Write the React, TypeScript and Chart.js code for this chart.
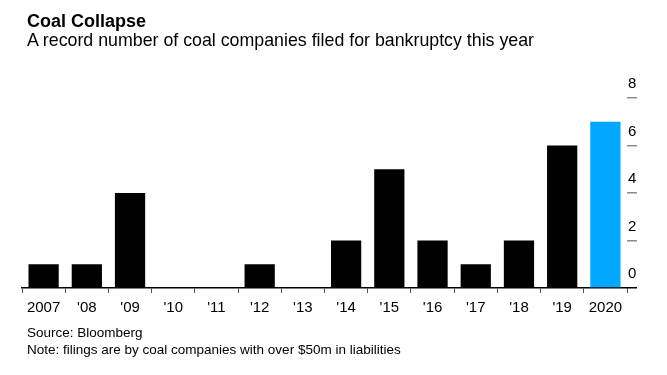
import React, { useEffect, useRef } from "react";
import { Chart, registerables } from "chart.js";

Chart.register(...registerables);

const years = ["2007", "'08", "'09", "'10", "'11", "'12", "'13", "'14", "'15", "'16", "'17", "'18", "'19", "2020"];
const filings = [1, 1, 4, 0, 0, 1, 0, 2, 5, 2, 1, 2, 6, 7];
const yMin = 0;
const yMax = 8;
const yStep = 2;

const titleText = "Coal Collapse";
const subtitleText = "A record number of coal companies filed for bankruptcy this year";
const sourceText = "Source: Bloomberg";
const noteText = "Note: filings are by coal companies with over $50m in liabilities";

const FONT = '"Liberation Sans", Arial, Helvetica, sans-serif';
const BLUE = "#00a9ff";

export default function App() {
  const ref = useRef<HTMLCanvasElement>(null);

  useEffect(() => {
    const chart = new Chart(ref.current!, {
      type: "bar",
      data: {
        labels: years,
        datasets: [
          {
            data: filings,
            backgroundColor: (c: any) => (c.dataIndex === years.length - 1 ? BLUE : "#000000"),
            barPercentage: 0.7,
            categoryPercentage: 1,
          },
        ],
      },
      options: {
        responsive: false,
        animation: false,
        layout: { padding: { left: 22, top: 98, right: 0, bottom: 57 } },
        plugins: {
          legend: { display: false },
          tooltip: { enabled: false },
          title: { display: false },
        },
        scales: {
          x: {
            grid: { drawOnChartArea: false, drawTicks: true, tickLength: 5, color: "#555555" },
            border: { display: true, color: "#000000", width: 1.5 },
            ticks: {
              font: { family: FONT, size: 15 },
              color: "#000000",
              padding: 6,
              maxRotation: 0,
              autoSkip: false,
            },
            afterFit: (s: any) => {
              s.height = 30;
            },
          },
          y: {
            position: "right",
            min: yMin,
            max: yMax,
            ticks: {
              stepSize: yStep,
              labelOffset: -14,
              padding: -9,
              font: { family: FONT, size: 15 },
              color: "#000000",
            },
            grid: {
              drawOnChartArea: false,
              drawTicks: true,
              tickLength: 10,
              color: (c: any) => (c.tick && c.tick.value === 0 ? "#000000" : "#8a8a8a"),
              lineWidth: 1.5,
            },
            border: { display: false },
            afterFit: (s: any) => {
              s.width = 40;
            },
          },
        },
      },
    } as any);
    return () => chart.destroy();
  }, []);

  const textBase: React.CSSProperties = {
    position: "absolute",
    left: 27,
    fontFamily: FONT,
    color: "#000",
    whiteSpace: "nowrap",
    margin: 0,
  };

  return (
    <div style={{ position: "fixed", left: 0, top: 0, width: 667, height: 375, background: "#fff", overflow: "hidden" }}>
      <canvas ref={ref} width={667} height={375} style={{ position: "absolute", left: 0, top: 0, display: "block" }} />
      <div style={{ ...textBase, top: 12, fontSize: 18, lineHeight: "18px", fontWeight: 700 }}>{titleText}</div>
      <div style={{ ...textBase, top: 32, fontSize: 17.8, lineHeight: "17.8px" }}>{subtitleText}</div>
      <div style={{ ...textBase, top: 326, fontSize: 13.5, lineHeight: "13.5px" }}>{sourceText}</div>
      <div style={{ ...textBase, top: 343, fontSize: 13.5, lineHeight: "13.5px" }}>{noteText}</div>
    </div>
  );
}
